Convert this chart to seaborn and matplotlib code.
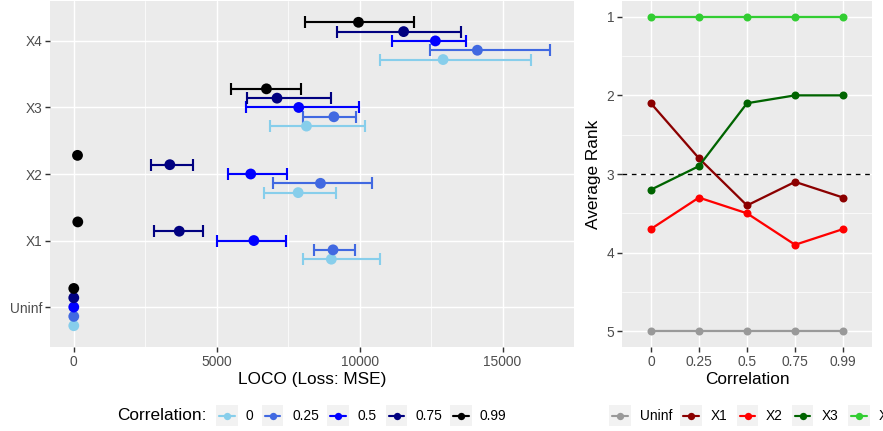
import numpy as np
import pandas as pd
import matplotlib
matplotlib.use("Agg")
import matplotlib.pyplot as plt
import seaborn as sns
from matplotlib.patches import Rectangle
from matplotlib.lines import Line2D

# ---------------------------------------------------------------- data
features = ["Uninf", "X1", "X2", "X3", "X4"]
correlations = ["0", "0.25", "0.5", "0.75", "0.99"]

# LOCO importance (MSE increase) per feature, one list per correlation level
loco_c000 = [0, 9010, 7850, 8140, 12920]
loco_c025 = [0, 9070, 8630, 9100, 14120]
loco_c050 = [0, 6300, 6190, 7870, 12650]
loco_c075 = [0, 3690, 3360, 7110, 11540]
loco_c099 = [0, 140, 130, 6740, 9960]

# lower / upper interval bounds
lower_c000 = [0, 8020, 6660, 6870, 10710]
upper_c000 = [0, 10730, 9160, 10200, 16010]
lower_c025 = [0, 8420, 6960, 8030, 12460]
upper_c025 = [0, 9830, 10440, 9870, 16670]
lower_c050 = [0, 5000, 5410, 6020, 11130]
upper_c050 = [0, 7420, 7460, 9970, 13730]
lower_c075 = [0, 2820, 2700, 6050, 9210]
upper_c075 = [0, 4510, 4160, 9000, 13560]
lower_c099 = [0, 140, 130, 5490, 8090]
upper_c099 = [0, 140, 130, 7940, 11900]

# average rank per feature across correlation levels
rank_uninf = [5.0, 5.0, 5.0, 5.0, 5.0]
rank_x1 = [2.1, 2.8, 3.4, 3.1, 3.3]
rank_x2 = [3.7, 3.3, 3.5, 3.9, 3.7]
rank_x3 = [3.2, 2.9, 2.1, 2.0, 2.0]
rank_x4 = [1.0, 1.0, 1.0, 1.0, 1.0]

corr_colors = ["#87CEEB", "#4169E1", "#0000FF", "#000080", "#000000"]
feat_colors = ["#999999", "#8B0000", "#FF0000", "#006400", "#32CD32"]

# ---------------------------------------------------------------- tables
est_sets = [loco_c000, loco_c025, loco_c050, loco_c075, loco_c099]
lo_sets = [lower_c000, lower_c025, lower_c050, lower_c075, lower_c099]
hi_sets = [upper_c000, upper_c025, upper_c050, upper_c075, upper_c099]
rows = []
for ci, c in enumerate(correlations):
    for fi, f in enumerate(features):
        rows.append(dict(feature=f, corr=c, est=est_sets[ci][fi],
                         lo=lo_sets[ci][fi], hi=hi_sets[ci][fi],
                         ypos=fi + (ci - 2) * 0.14))
loco = pd.DataFrame(rows)

rank_sets = [rank_uninf, rank_x1, rank_x2, rank_x3, rank_x4]
rank = pd.DataFrame([dict(feature=f, corr=c, rank=rank_sets[fi][ci])
                     for fi, f in enumerate(features)
                     for ci, c in enumerate(correlations)])

# ---------------------------------------------------------------- style
TICK_FS = 10.3
TITLE_FS = 12.9
sns.set_theme(style="darkgrid", rc={
    "axes.facecolor": "#EBEBEB",
    "grid.color": "white",
    "grid.linewidth": 1.07,
    "xtick.color": "#333333",
    "ytick.color": "#333333",
    "xtick.labelcolor": "#4D4D4D",
    "ytick.labelcolor": "#4D4D4D",
    "xtick.labelsize": TICK_FS,
    "ytick.labelsize": TICK_FS,
    "axes.labelsize": TITLE_FS,
    "axes.labelcolor": "black",
})
plt.rcParams["font.family"] = ["Liberation Sans", "DejaVu Sans"]

W, H, DPI = 883, 431, 96
fig = plt.figure(figsize=(W / DPI, H / DPI), dpi=DPI)


def fx(px):
    return px / W


def fy(py):
    return 1 - py / H


def style_axis(ax):
    for s in ax.spines.values():
        s.set_visible(False)
    ax.tick_params(which="major", length=3.7, width=1.07, pad=2.2,
                   left=True, bottom=True)
    ax.tick_params(which="minor", length=0)
    ax.grid(which="major", color="white", linewidth=1.07)
    ax.grid(which="minor", color="white", linewidth=0.53)
    ax.set_axisbelow(True)


# ---------------------------------------------------------------- LOCO panel
axL = fig.add_axes([fx(50), fy(347), fx(524), 346 / H])
for ci, c in enumerate(correlations):
    sub = loco[(loco["corr"] == c) & (loco["hi"] > loco["lo"])]
    axL.errorbar(sub["est"], sub["ypos"],
                 xerr=[sub["est"] - sub["lo"], sub["hi"] - sub["est"]],
                 fmt="none", ecolor=corr_colors[ci], elinewidth=1.6,
                 capsize=4.2, capthick=1.6, zorder=2)
sns.scatterplot(data=loco, x="est", y="ypos", hue="corr",
                hue_order=correlations, palette=corr_colors, s=66,
                linewidth=0, legend=False, zorder=3, ax=axL)
axL.set_xlim(-832, 17475)
axL.set_ylim(-0.6, 4.6)
axL.set_yticks(range(len(features)), features)
axL.set_xticks([0, 5000, 10000, 15000], ["0", "5000", "10000", "15000"])
axL.set_xticks([2500, 7500, 12500, 17500], minor=True)
axL.set_xlabel("LOCO (Loss: MSE)", labelpad=2)
axL.set_ylabel("")
style_axis(axL)

# ---------------------------------------------------------------- rank panel
axR = fig.add_axes([fx(622), fy(347), fx(250), 346 / H])
sns.lineplot(data=rank, x="corr", y="rank", hue="feature",
             hue_order=features, palette=feat_colors, marker="o",
             markersize=6, markeredgewidth=0, linewidth=1.7,
             legend=False, sort=False, ax=axR)
axR.axhline(3, color="black", linewidth=1.0, linestyle=(0, (3.5, 3.5)),
            zorder=1)
axR.set_xlim(-0.6, 4.6)
axR.set_ylim(5.2, 0.8)
axR.set_yticks([1, 2, 3, 4, 5], ["1", "2", "3", "4", "5"])
axR.set_yticks([1.5, 2.5, 3.5, 4.5], minor=True)
axR.set_xlabel("Correlation", labelpad=2)
axR.set_ylabel("Average Rank", labelpad=4)
style_axis(axR)


# ---------------------------------------------------------------- legends
def legend_key(x0, y_mid, color, size=21.7):
    fig.add_artist(Rectangle((fx(x0), fy(y_mid + size / 2)), size / W,
                             size / H, transform=fig.transFigure,
                             facecolor="#F2F2F2", edgecolor="none"))
    fig.add_artist(Line2D([fx(x0 + 3), fx(x0 + size - 3)],
                          [fy(y_mid), fy(y_mid)], transform=fig.transFigure,
                          color=color, linewidth=1.6))
    fig.add_artist(Line2D([fx(x0 + size / 2)], [fy(y_mid)],
                          transform=fig.transFigure, color=color,
                          marker="o", markersize=5.5, markeredgewidth=0,
                          linestyle="none"))


ymid = 415.5
fig.text(fx(117), fy(ymid), "Correlation:", fontsize=TITLE_FS, ha="left",
         va="center", color="black")
for x0, xt, c, col in zip([216, 261.7, 327.3, 385.7, 450],
                          [245, 292.7, 357.3, 415, 480],
                          correlations, corr_colors):
    legend_key(x0, ymid, col)
    fig.text(fx(xt), fy(ymid), c, fontsize=TICK_FS, ha="left", va="center",
             color="black")

for x0, xt, f, col in zip([609.3, 680, 736.7, 791.7, 848.3],
                          [640, 710.7, 766, 821.7, 878.3],
                          features, feat_colors):
    legend_key(x0, ymid, col)
    fig.text(fx(xt), fy(ymid), f, fontsize=TICK_FS, ha="left", va="center",
             color="black")

fig.savefig("out.png", dpi=DPI)
